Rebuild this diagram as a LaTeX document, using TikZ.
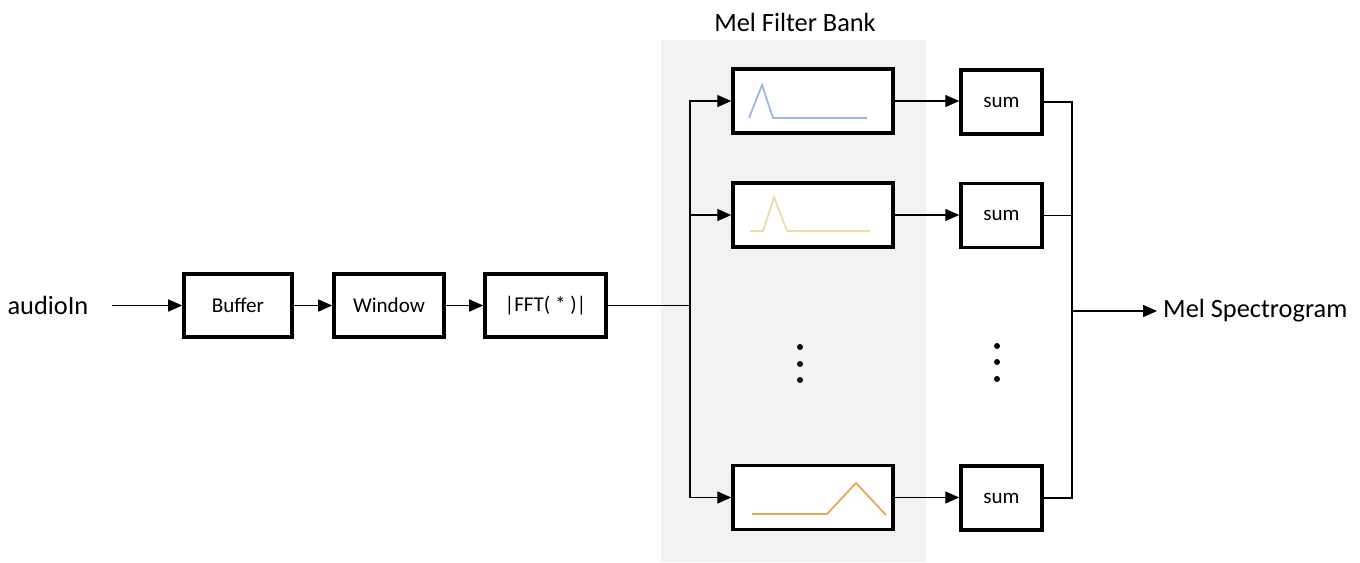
\documentclass[tikz,border=0pt]{standalone}
\usepackage{fontspec}
\setmainfont{Carlito}
\usetikzlibrary{arrows.meta}
\definecolor{bankgray}{HTML}{F2F2F2}
\definecolor{melblue}{HTML}{9DB6E0}
\definecolor{melyellow}{HTML}{EBDDA8}
\definecolor{melorange}{HTML}{E8A45A}
\begin{document}
\begin{tikzpicture}[x=0.2mm, y=-0.2mm,
    block/.style={draw, line width=2pt, fill=white, minimum height=12.6mm, inner sep=0pt, font=\fontsize{12}{14}\selectfont},
    label/.style={font=\fontsize{15}{18}\selectfont},
    arr/.style={-{Triangle[length=2.8mm, width=2.4mm]}, line width=0.8pt},
    wire/.style={line width=0.8pt},
    curve/.style={line width=1pt}]
    \useasboundingbox (0,0) rectangle (1360,562);
    \fill[bankgray] (661,40) rectangle (926,562);
    \node[label] (title) at (795,22) {Mel Filter Bank};

    % front end
    \node[label] (in) at (48,305.5) {audioIn};
    \node[block, minimum width=21.6mm] (buf) at (238,305.5) {Buffer};
    \node[block, minimum width=22mm] (win) at (389,305.5) {Window};
    \node[block, minimum width=24.2mm] (fft) at (545.5,305.5) {|FFT( * )|};
    \draw[arr] ([xshift=3.5mm]in.east) -- (buf.west);
    \draw[arr] (buf) -- (win);
    \draw[arr] (win) -- (fft);

    % filter bank
    \node[block, minimum width=32mm, minimum height=12.8mm] (f1) at (813,101) {};
    \node[block, minimum width=32mm, minimum height=12.8mm] (f2) at (813,215) {};
    \node[block, minimum width=32mm, minimum height=12.8mm] (fn) at (813,497.5) {};
    \draw[curve, melblue] (749,118) -- (762,85) -- (773,118) -- (867,118);
    \draw[curve, melyellow] (750,231) -- (763,231) -- (774,197) -- (787,231) -- (870,231);
    \draw[curve, melorange] (752,514) -- (827,514) -- (856,483) -- (886,515);

    \coordinate (split) at (690,305.5);
    \draw[wire] (fft.east) -- (split);
    \draw[arr] (split) |- (f1.west);
    \draw[arr] (split) |- (f2.west);
    \draw[arr] (split) |- (fn.west);

    % sums
    \node[block, minimum width=16.2mm, minimum height=12.8mm] (s1) at (1001.5,102) {sum};
    \node[block, minimum width=16.2mm, minimum height=12.8mm] (s2) at (1001.5,215.5) {sum};
    \node[block, minimum width=16.2mm, minimum height=12.8mm] (sn) at (1001.5,498) {sum};
    \draw[arr] (f1) -- (f1 -| s1.west);
    \draw[arr] (f2) -- (f2 -| s2.west);
    \draw[arr] (fn) -- (fn -| sn.west);

    \foreach \y in {347,364,380} \fill (800,\y) circle[radius=0.6mm];
    \foreach \y in {346,362,379} \fill (997,\y) circle[radius=0.6mm];

    % output
    \coordinate (join) at (1072,311);
    \node[label, anchor=west] (out) at (1157,311) {Mel Spectrogram};
    \draw[wire] (s1.east) -| (join);
    \draw[wire] (s2.east) -| (join);
    \draw[wire] (sn.east) -| (join);
    \draw[arr] (join) -- (out.west);
\end{tikzpicture}
\end{document}
